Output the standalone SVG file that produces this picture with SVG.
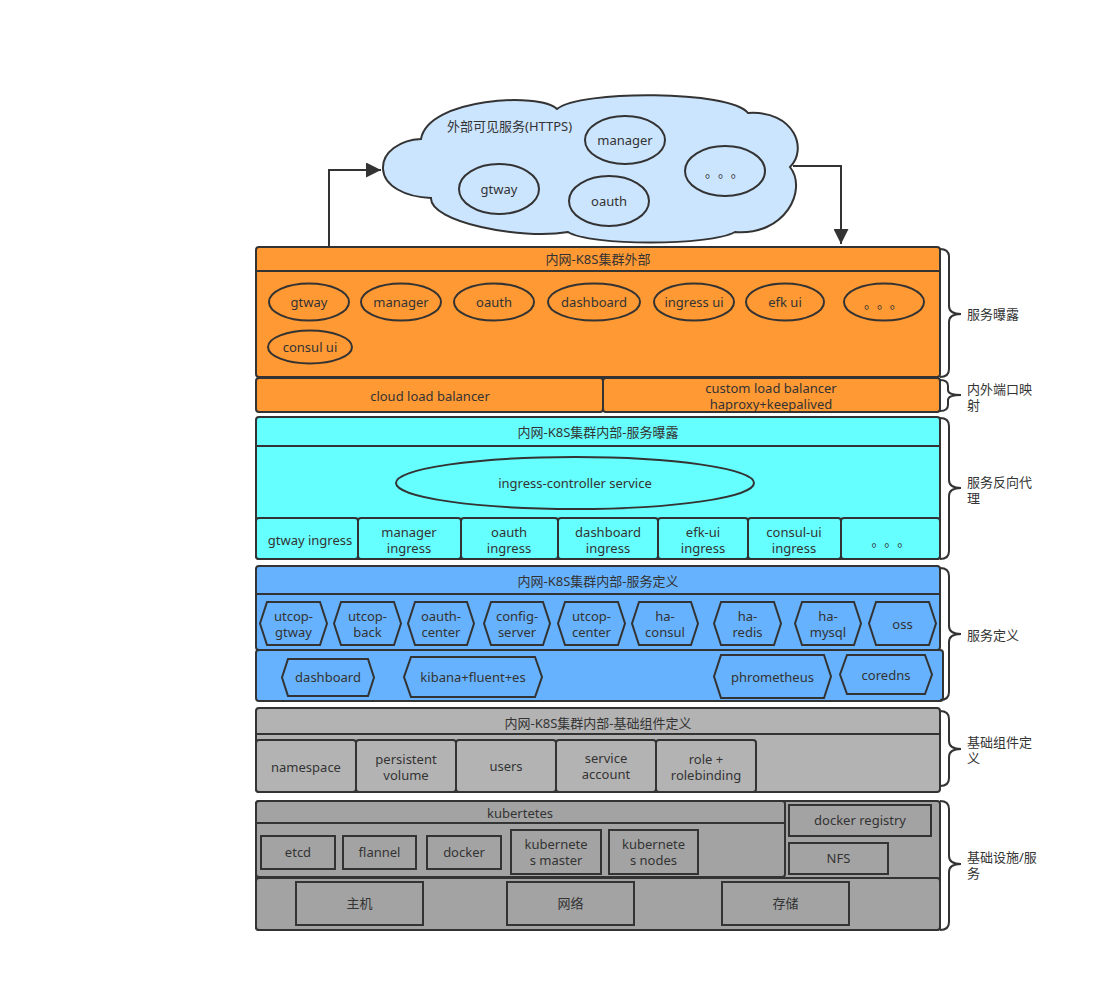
<svg xmlns="http://www.w3.org/2000/svg" width="1102" height="992" viewBox="0 0 1102 992">
<defs>
<style>
.t{font-family:"Noto Sans","Noto Sans CJK SC",sans-serif;font-size:13px;fill:#333;text-anchor:middle}
.cj{font-family:"Noto Sans CJK SC","Noto Sans CJK JP",sans-serif;font-size:13px;fill:#333;text-anchor:middle;letter-spacing:6.4px}
.l{font-family:"Noto Sans","Noto Sans CJK SC",sans-serif;font-size:13px;fill:#333;text-anchor:start}
.s{stroke:#333;stroke-width:2}
.or{fill:#FF9933}
.cy{fill:#66FFFF}
.bl{fill:#66B2FF}
.g1{fill:#B3B3B3}
.g2{fill:#A3A3A3}
.br{fill:none;stroke:#333;stroke-width:2}
.cn{fill:none;stroke:#333;stroke-width:2}
</style>
<marker id="ah" viewBox="0 0 10 10" refX="10" refY="5" markerWidth="7.5" markerHeight="7.5" orient="auto" markerUnits="strokeWidth">
<path d="M0,0 L10,5 L0,10 Z" fill="#333"/>
</marker>
</defs>
<rect width="1102" height="992" fill="#fff"/>

<g id="cloud">
<path class="s" fill="#CCE5FF" d="M421,139 C400,140 382,152 383,169 C384,186 405,197 431,198 C430,222 520,240 568,232 C590,246 710,246 735,232 C785,236 808,190 790,167 C808,150 795,110 748,113 C730,90 580,90 557,109 C540,92 428,98 421,139 Z"/>
<text class="l" x="447" y="131">外部可见服务(HTTPS)</text>
<ellipse class="s" fill="#CCE5FF" cx="625" cy="140" rx="40" ry="24"/>
<text class="t" x="625" y="144.5">manager</text>
<ellipse class="s" fill="#CCE5FF" cx="499" cy="189" rx="40" ry="25"/>
<text class="t" x="499" y="193.5">gtway</text>
<ellipse class="s" fill="#CCE5FF" cx="609" cy="201" rx="40" ry="25"/>
<text class="t" x="609" y="205.5">oauth</text>
<ellipse class="s" fill="#CCE5FF" cx="725" cy="171" rx="40" ry="25"/>
<text class="cj" x="727.6" y="177">。。。</text>
</g>

<g id="connectors">
<path class="cn" d="M329,247 V170 H381" marker-end="url(#ah)"/>
<path class="cn" d="M793,166 H841 V244" marker-end="url(#ah)"/>
</g>

<g id="layer-external">
<rect class="s or" x="256" y="247" width="684" height="130" rx="3"/>
<line class="s" x1="256" y1="271" x2="940" y2="271"/>
<text class="t" x="598" y="264">内网-K8S集群外部</text>
<ellipse class="s or" cx="309" cy="302" rx="40" ry="18.5"/>
<text class="t" x="309" y="306.5">gtway</text>
<ellipse class="s or" cx="401" cy="302" rx="40" ry="18.5"/>
<text class="t" x="401" y="306.5">manager</text>
<ellipse class="s or" cx="494" cy="302" rx="40" ry="18.5"/>
<text class="t" x="494" y="306.5">oauth</text>
<ellipse class="s or" cx="594" cy="302" rx="46" ry="18.5"/>
<text class="t" x="594" y="306.5">dashboard</text>
<ellipse class="s or" cx="694" cy="302" rx="40" ry="18.5"/>
<text class="t" x="694" y="306.5">ingress ui</text>
<ellipse class="s or" cx="785" cy="302" rx="39" ry="18.5"/>
<text class="t" x="785" y="306.5">efk ui</text>
<ellipse class="s or" cx="884" cy="302" rx="40" ry="18.5"/>
<text class="cj" x="886.6" y="308">。。。</text>
<ellipse class="s or" cx="310" cy="347" rx="42" ry="16.5"/>
<text class="t" x="310" y="351.5">consul ui</text>
</g>

<g id="load-balancers">
<rect class="s or" x="256" y="378" width="347" height="34" rx="3"/>
<text class="t" x="430" y="400.5">cloud load balancer</text>
<rect class="s or" x="603" y="378" width="337" height="34" rx="3"/>
<text class="t" x="771" y="392.5">custom load balancer</text>
<text class="t" x="771" y="408.5">haproxy+keepalived</text>
</g>

<g id="layer-ingress">
<rect class="s cy" x="256" y="417" width="684" height="142" rx="3"/>
<line class="s" x1="256" y1="446" x2="940" y2="446"/>
<text class="t" x="598" y="436.5">内网-K8S集群内部-服务曝露</text>
<ellipse class="s cy" cx="575" cy="483" rx="179" ry="26"/>
<text class="t" x="575" y="487.5">ingress-controller service</text>
<rect class="s cy" x="256" y="518" width="102" height="41" rx="3"/>
<text class="t" x="310" y="544.5">gtway ingress</text>
<rect class="s cy" x="358" y="518" width="103" height="41" rx="3"/>
<text class="t" x="409" y="536.5">manager</text><text class="t" x="409" y="552.5">ingress</text>
<rect class="s cy" x="461" y="518" width="97" height="41" rx="3"/>
<text class="t" x="509" y="536.5">oauth</text><text class="t" x="509" y="552.5">ingress</text>
<rect class="s cy" x="558" y="518" width="100" height="41" rx="3"/>
<text class="t" x="608" y="536.5">dashboard</text><text class="t" x="608" y="552.5">ingress</text>
<rect class="s cy" x="658" y="518" width="90" height="41" rx="3"/>
<text class="t" x="703" y="536.5">efk-ui</text><text class="t" x="703" y="552.5">ingress</text>
<rect class="s cy" x="748" y="518" width="93" height="41" rx="3"/>
<text class="t" x="794" y="536.5">consul-ui</text><text class="t" x="794" y="552.5">ingress</text>
<rect class="s cy" x="841" y="518" width="99" height="41" rx="3"/>
<text class="cj" x="894" y="546">。。。</text>
</g>

<g id="layer-services">
<rect class="s bl" x="256" y="566" width="684" height="84" rx="3"/>
<line class="s" x1="256" y1="594" x2="940" y2="594"/>
<text class="t" x="598" y="585.5">内网-K8S集群内部-服务定义</text>
<polygon class="s bl" points="267,602 320,602 327,623.5 320,645 267,645 260,623.5"/>
<text class="t" x="293.5" y="621">utcop-</text><text class="t" x="293.5" y="637">gtway</text>
<polygon class="s bl" points="341,602 394,602 401,623.5 394,645 341,645 334,623.5"/>
<text class="t" x="367.5" y="621">utcop-</text><text class="t" x="367.5" y="637">back</text>
<polygon class="s bl" points="415,602 467,602 474,623.5 467,645 415,645 408,623.5"/>
<text class="t" x="441" y="621">oauth-</text><text class="t" x="441" y="637">center</text>
<polygon class="s bl" points="491,602 543,602 550,623.5 543,645 491,645 484,623.5"/>
<text class="t" x="517" y="621">config-</text><text class="t" x="517" y="637">server</text>
<polygon class="s bl" points="565,602 618,602 625,623.5 618,645 565,645 558,623.5"/>
<text class="t" x="591.5" y="621">utcop-</text><text class="t" x="591.5" y="637">center</text>
<polygon class="s bl" points="639,602 691,602 698,623.5 691,645 639,645 632,623.5"/>
<text class="t" x="665" y="621">ha-</text><text class="t" x="665" y="637">consul</text>
<polygon class="s bl" points="721,602 774,602 781,623.5 774,645 721,645 714,623.5"/>
<text class="t" x="747.5" y="621">ha-</text><text class="t" x="747.5" y="637">redis</text>
<polygon class="s bl" points="802,602 854,602 861,623.5 854,645 802,645 795,623.5"/>
<text class="t" x="828" y="621">ha-</text><text class="t" x="828" y="637">mysql</text>
<polygon class="s bl" points="876,602 929,602 936,623.5 929,645 876,645 869,623.5"/>
<text class="t" x="902.5" y="628.5">oss</text>
<rect class="s bl" x="256" y="650" width="687" height="51" rx="3"/>
<polygon class="s bl" points="288,659 368,659 374,677.5 368,696 288,696 282,677.5"/>
<text class="t" x="328" y="682">dashboard</text>
<polygon class="s bl" points="411,657 535,657 542,677 535,697 411,697 404,677"/>
<text class="t" x="473" y="681.5">kibana+fluent+es</text>
<polygon class="s bl" points="721,655 824,655 831,676.5 824,698 721,698 714,676.5"/>
<text class="t" x="772.5" y="681.5">phrometheus</text>
<polygon class="s bl" points="847,655 925,655 932,674.5 925,694 847,694 840,674.5"/>
<text class="t" x="886" y="679.5">coredns</text>
</g>

<g id="layer-base">
<rect class="s g1" x="256" y="708" width="684" height="84" rx="3"/>
<line class="s" x1="256" y1="734" x2="940" y2="734"/>
<text class="t" x="598" y="727.5">内网-K8S集群内部-基础组件定义</text>
<rect class="s g1" x="256" y="740" width="100" height="52" rx="3"/>
<text class="t" x="306" y="772">namespace</text>
<rect class="s g1" x="356" y="740" width="100" height="52" rx="3"/>
<text class="t" x="406" y="764">persistent</text><text class="t" x="406" y="780">volume</text>
<rect class="s g1" x="456" y="740" width="100" height="52" rx="3"/>
<text class="t" x="506" y="771">users</text>
<rect class="s g1" x="556" y="740" width="100" height="52" rx="3"/>
<text class="t" x="606" y="763">service</text><text class="t" x="606" y="779">account</text>
<rect class="s g1" x="656" y="740" width="100" height="52" rx="3"/>
<text class="t" x="706" y="764">role +</text><text class="t" x="706" y="780">rolebinding</text>
</g>

<g id="layer-infra">
<rect class="s g2" x="256" y="801" width="684" height="129" rx="3"/>
<rect class="s g2" x="256" y="801" width="529" height="76" rx="3"/>
<line class="s" x1="256" y1="823" x2="785" y2="823"/>
<text class="t" x="520" y="817.5">kubertetes</text>
<rect class="s g2" x="261" y="836" width="74" height="33"/>
<text class="t" x="298" y="857">etcd</text>
<rect class="s g2" x="343" y="836" width="73" height="33"/>
<text class="t" x="379.5" y="857">flannel</text>
<rect class="s g2" x="427" y="836" width="74" height="33"/>
<text class="t" x="464" y="857">docker</text>
<rect class="s g2" x="511" y="830" width="90" height="44"/>
<text class="t" x="556" y="849">kubernete</text><text class="t" x="556" y="865">s master</text>
<rect class="s g2" x="609" y="830" width="89" height="44"/>
<text class="t" x="653.5" y="849">kubernete</text><text class="t" x="653.5" y="865">s nodes</text>
<rect class="s g2" x="789" y="805" width="142" height="31"/>
<text class="t" x="860" y="825">docker registry</text>
<rect class="s g2" x="789" y="843" width="99" height="31"/>
<text class="t" x="838.5" y="863">NFS</text>
<rect class="s g2" x="256" y="878" width="684" height="52" rx="3"/>
<rect class="s g2" x="296" y="882" width="127" height="43"/>
<text class="t" x="359.5" y="908">主机</text>
<rect class="s g2" x="507" y="882" width="127" height="43"/>
<text class="t" x="570.5" y="908">网络</text>
<rect class="s g2" x="722" y="882" width="127" height="43"/>
<text class="t" x="785.5" y="908">存储</text>
</g>

<g id="brackets">
<path class="br" d="M940,249 Q949,249 949,257 L949,306 Q949,314 961,314 Q949,314 949,322 L949,369 Q949,377 940,377"/>
<text class="l" x="967" y="319">服务曝露</text>
<path class="br" d="M940,380 Q948,380 948,386 L948,390 Q948,395 961,395 Q948,395 948,400 L948,405 Q948,411 940,411"/>
<text class="l" x="967" y="393.5">内外端口映</text>
<text class="l" x="967" y="410">射</text>
<path class="br" d="M940,418 Q949,418 949,426 L949,480 Q949,488 961,488 Q949,488 949,496 L949,551 Q949,559 940,559"/>
<text class="l" x="967" y="486.5">服务反向代</text>
<text class="l" x="967" y="502.5">理</text>
<path class="br" d="M940,568 Q949,568 949,576 L949,626 Q949,634 961,634 Q949,634 949,642 L949,692 Q949,700 940,700"/>
<text class="l" x="967" y="639.5">服务定义</text>
<path class="br" d="M940,711 Q949,711 949,719 L949,741 Q949,749 961,749 Q949,749 949,757 L949,778 Q949,786 940,786"/>
<text class="l" x="967" y="746.5">基础组件定</text>
<text class="l" x="967" y="763">义</text>
<path class="br" d="M940,801 Q949,801 949,809 L949,856 Q949,864 961,864 Q949,864 949,872 L949,922 Q949,930 940,930"/>
<text class="l" x="967" y="862">基础设施/服</text>
<text class="l" x="967" y="878">务</text>
</g>
</svg>
